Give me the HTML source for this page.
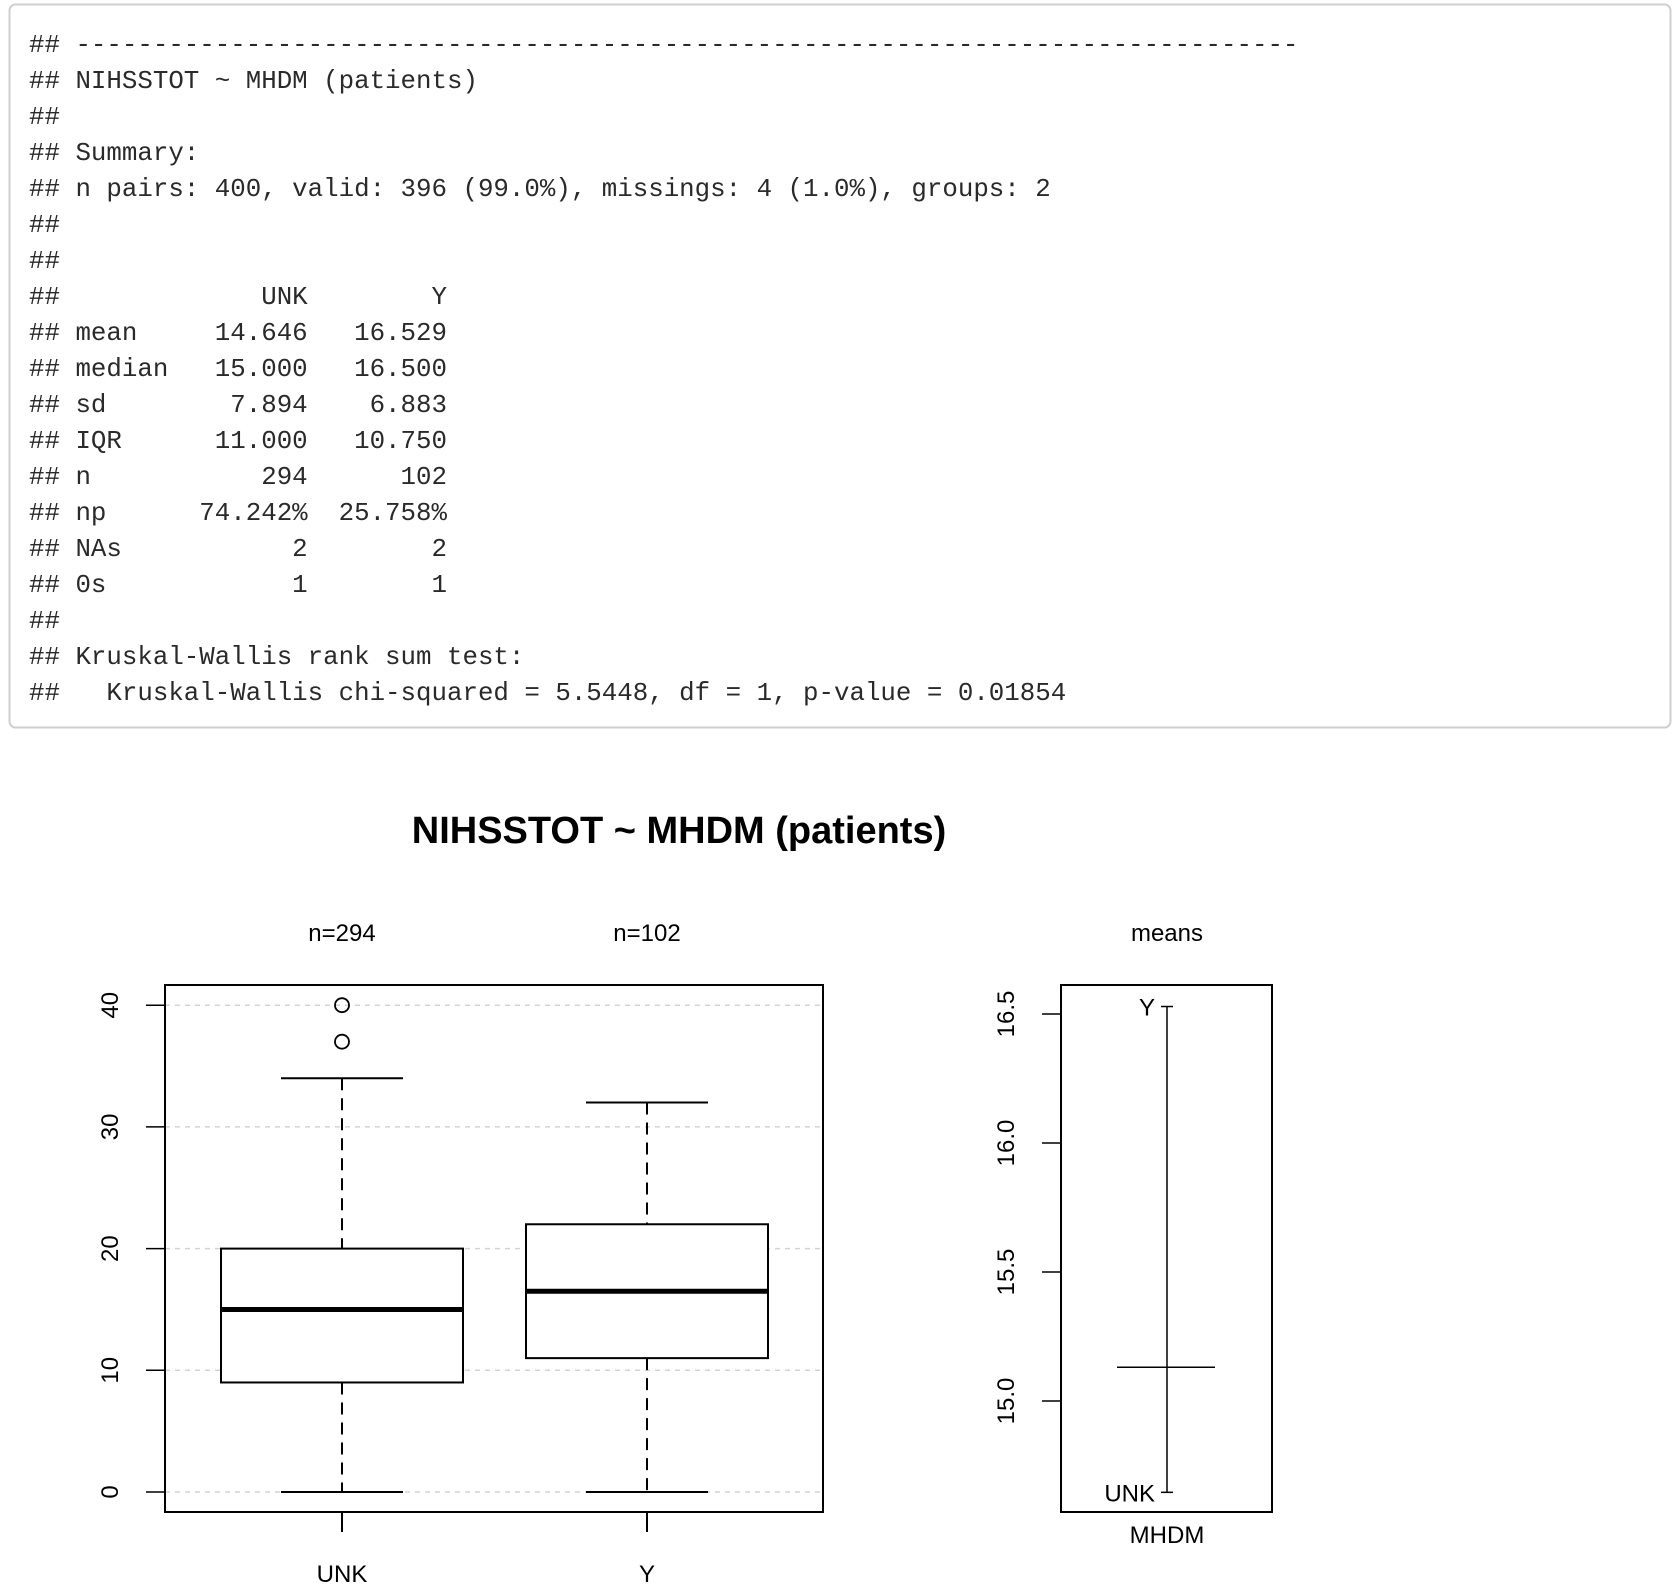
<!DOCTYPE html>
<html><head><meta charset="utf-8"><style>
html,body{margin:0;padding:0;background:#fff;}
svg{display:block;}
.code{font-family:"Liberation Mono",monospace;font-size:25.8px;fill:#2a2a2a;white-space:pre;}
.lab{font-family:"Liberation Sans",Arial,sans-serif;font-size:24px;fill:#000;}
</style></head><body>
<svg id="page" width="1678" height="1592" viewBox="0 0 1678 1592" xmlns="http://www.w3.org/2000/svg">
<rect x="9.5" y="4.5" width="1661" height="723" rx="6" fill="#fff" stroke="#cfcfcf" stroke-width="2"/>
<g id="code"></g>
<text x="679" y="843" text-anchor="middle" font-family="Liberation Sans, Arial, sans-serif" font-weight="bold" font-size="38">NIHSSTOT ~ MHDM (patients)</text>
<g id="box"></g>
<g id="means"></g>
</svg>
<script>
const codeLines = [
"## " + "-".repeat(79),
"## NIHSSTOT ~ MHDM (patients)",
"##",
"## Summary:",
"## n pairs: 400, valid: 396 (99.0%), missings: 4 (1.0%), groups: 2",
"##",
"##",
"##             UNK        Y",
"## mean     14.646   16.529",
"## median   15.000   16.500",
"## sd        7.894    6.883",
"## IQR      11.000   10.750",
"## n           294      102",
"## np      74.242%  25.758%",
"## NAs           2        2",
"## 0s            1        1",
"##",
"## Kruskal-Wallis rank sum test:",
"##   Kruskal-Wallis chi-squared = 5.5448, df = 1, p-value = 0.01854"
];
const categories = ["UNK","Y"];
const counts = [294,102];
const lowerWhisker = [0,0];
const q1 = [9,11];
const medians = [15,16.5];
const q3 = [20,22];
const upperWhisker = [34,32];
const outliers = [[37,40],[]];
const yTicks = [0,10,20,30,40];
const groupMeans = [14.646,16.529];
const grandMean = 15.131;
const meanTicks = [15.0,15.5,16.0,16.5];
const meanTickLabels = ["15.0","15.5","16.0","16.5"];

const NS="http://www.w3.org/2000/svg";
function mk(parent,tag,attrs,text){const e=document.createElementNS(NS,tag);for(const k in attrs)e.setAttribute(k,attrs[k]);if(text!==undefined)e.textContent=text;parent.appendChild(e);return e;}

const code=document.getElementById('code');
codeLines.forEach((l,i)=>{
  const t=mk(code,'text',{x:29,y:52+36*i,'class':'code','xml:space':'preserve'},l);
  
  
});

const box=document.getElementById('box');
const L=165,R=823,T=985,B=1512;
const y=v=>1492-v*12.17;
const xc=[342,647];
const halfBox=121, halfCap=61;
yTicks.forEach(v=>{
  const g=mk(box,'line',{x1:L,x2:R,y1:y(v),y2:y(v),stroke:'#d3d3d3','stroke-width':1.5,'stroke-dasharray':'5,5'});
  
  
  const tk=mk(box,'line',{x1:146,x2:L,y1:y(v),y2:y(v),stroke:'#000','stroke-width':1.5});
  
  
  const tl=mk(box,'text',{x:0,y:0,'class':'lab','text-anchor':'middle',transform:`translate(118,${y(v)}) rotate(-90)`},String(v));
  
  
});
categories.forEach((c,i)=>{
  const x=xc[i];
  const w1=mk(box,'line',{x1:x,x2:x,y1:y(upperWhisker[i]),y2:y(q3[i]),stroke:'#000','stroke-width':2,'stroke-dasharray':'12,8'});
  
  
  const w2=mk(box,'line',{x1:x,x2:x,y1:y(q1[i]),y2:y(lowerWhisker[i]),stroke:'#000','stroke-width':2,'stroke-dasharray':'12,8'});
  
  
  const c1=mk(box,'line',{x1:x-halfCap,x2:x+halfCap,y1:y(upperWhisker[i]),y2:y(upperWhisker[i]),stroke:'#000','stroke-width':2});
  
  
  const c2=mk(box,'line',{x1:x-halfCap,x2:x+halfCap,y1:y(lowerWhisker[i]),y2:y(lowerWhisker[i]),stroke:'#000','stroke-width':2});
  
  
  const r=mk(box,'rect',{x:x-halfBox,y:y(q3[i]),width:2*halfBox,height:y(q1[i])-y(q3[i]),fill:'#fff',stroke:'#000','stroke-width':2});
  
  
  const m=mk(box,'line',{x1:x-halfBox,x2:x+halfBox,y1:y(medians[i]),y2:y(medians[i]),stroke:'#000','stroke-width':5});
  
  
  outliers[i].forEach(o=>{
    const ci=mk(box,'circle',{cx:x,cy:y(o),r:7,fill:'none',stroke:'#000','stroke-width':1.8});
    
    
  });
  const tk=mk(box,'line',{x1:x,x2:x,y1:B,y2:1532,stroke:'#000','stroke-width':2});
  
  
  const xl=mk(box,'text',{x:x,y:1582,'class':'lab','text-anchor':'middle'},c);
  
  
  const nl=mk(box,'text',{x:x,y:941,'class':'lab','text-anchor':'middle'},'n='+counts[i]);
  
  
});
const frame=mk(box,'rect',{x:L,y:T,width:R-L,height:B-T,fill:'none',stroke:'#000','stroke-width':2});



const mp=document.getElementById('means');
const ML=1061,MR=1272;
const my=v=>1401-(v-15)*258;
const mx=1167;
meanTicks.forEach((v,i)=>{
  const tk=mk(mp,'line',{x1:1042,x2:ML,y1:my(v),y2:my(v),stroke:'#000','stroke-width':1.5});
  
  
  const tl=mk(mp,'text',{x:0,y:0,'class':'lab','text-anchor':'middle',transform:`translate(1014,${my(v)}) rotate(-90)`},meanTickLabels[i]);
  
  
});
const vl=mk(mp,'line',{x1:mx,x2:mx,y1:my(groupMeans[1]),y2:my(groupMeans[0]),stroke:'#000','stroke-width':1.5});


categories.forEach((c,i)=>{
  const cp=mk(mp,'line',{x1:mx-6,x2:mx+6,y1:my(groupMeans[i]),y2:my(groupMeans[i]),stroke:'#000','stroke-width':1.5});
  
  
  const lb=mk(mp,'text',{x:mx-12,y:my(groupMeans[i])+9,'class':'lab','text-anchor':'end'},c);
  
  
});
const gm=mk(mp,'line',{x1:1117,x2:1215,y1:my(grandMean),y2:my(grandMean),stroke:'#000','stroke-width':1.5});


const mf=mk(mp,'rect',{x:ML,y:T,width:MR-ML,height:B-T,fill:'none',stroke:'#000','stroke-width':2});


const mt=mk(mp,'text',{x:1167,y:941,'class':'lab','text-anchor':'middle'},'means');


const mxl=mk(mp,'text',{x:1167,y:1543,'class':'lab','text-anchor':'middle'},'MHDM');


</script>
</body></html>
